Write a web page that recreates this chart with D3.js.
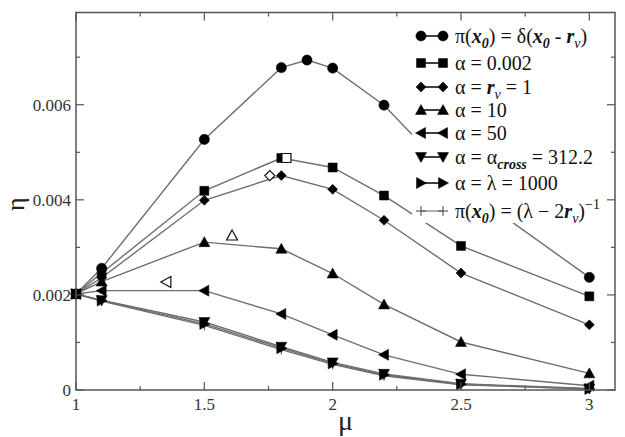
<!DOCTYPE html>
<html><head><meta charset="utf-8">
<style>
body{margin:0;background:#fff;}
#c text, #c tspan{font-family:"Liberation Serif","Times New Roman",Times,serif !important;}
</style>
<script src="https://cdn.jsdelivr.net/npm/d3@7"></script>
</head>
<body><svg id="c" width="625" height="437" font-family="Liberation Serif"></svg>
<script>
// ---- data ----
const muFull = [1, 1.1, 1.5, 1.8, 1.9, 2.0, 2.2, 2.5, 3];
const mu = [1, 1.1, 1.5, 1.8, 2.0, 2.2, 2.5, 3];
const etaDelta   = [0.00202, 0.00256, 0.00527, 0.00678, 0.00694, 0.00677, 0.00599, 0.00430, 0.00237];
const etaA0002   = [0.00202, 0.00246, 0.00419, 0.00488, 0.00468, 0.00409, 0.00303, 0.00197];
const etaArv     = [0.00202, 0.00236, 0.00399, 0.00451, 0.00422, 0.00357, 0.00246, 0.00137];
const etaA10     = [0.00202, 0.00228, 0.00311, 0.00297, 0.00245, 0.00180, 0.00101, 0.00035];
const etaA50     = [0.00202, 0.00209, 0.00209, 0.00160, 0.00116, 0.00074, 0.00033, 0.00009];
const etaAcross  = [0.00202, 0.00189, 0.00143, 0.00091, 0.00058, 0.00034, 0.00013, 0.00003];
const etaAlambda = [0.00202, 0.00188, 0.00139, 0.00088, 0.00056, 0.00032, 0.00012, 0.00002];
const etaUniform = [0.00202, 0.00187, 0.00136, 0.00085, 0.00054, 0.00030, 0.00011, 0.00002];
// open (hollow) markers
const openMu  = [1.82, 1.755, 1.608, 1.352];
const openEta = [0.00488, 0.00451, 0.00325, 0.00227];
const openSym = ["square", "diamond", "triangle", "left"];
const xTicks = [1, 1.5, 2, 2.5, 3];
const yTicks = [0, 0.002, 0.004, 0.006];
const yTickLabels = ["0", "0.002", "0.004", "0.006"];

// ---- layout ----
const FONT = "Liberation Serif";
const L = 76, R = 615, T = 12.5, B = 390;
const svg = d3.select("#c");
const x = d3.scaleLinear().domain([1, 3.1]).range([L, R]);
const y = d3.scaleLinear().domain([0, 0.00794]).range([B, T]);
const lineCol = "#6e6e6e";

const series = [
  {mu: muFull, eta: etaDelta, sym: "circle"},
  {mu: mu, eta: etaA0002, sym: "square"},
  {mu: mu, eta: etaArv, sym: "diamond"},
  {mu: mu, eta: etaA10, sym: "triangle"},
  {mu: mu, eta: etaA50, sym: "left"},
  {mu: mu, eta: etaAcross, sym: "down"},
  {mu: mu, eta: etaAlambda, sym: "right"},
  {mu: mu, eta: etaUniform, sym: "plus"}
];

function markerPath(sym){
  switch(sym){
    case "circle": return d3.symbol(d3.symbolCircle, 82)();
    case "square": return "M-4.5,-4.5H4.5V4.5H-4.5Z";
    case "diamond": return "M0,-5L5,0L0,5L-5,0Z";
    case "triangle": return "M0,-5.5L5.5,4.5L-5.5,4.5Z";
    case "down": return "M0,5.5L5.5,-4.5L-5.5,-4.5Z";
    case "left": return "M-5.5,0L4.5,-5.5L4.5,5.5Z";
    case "right": return "M5.5,0L-4.5,-5.5L-4.5,5.5Z";
    case "plus": return "M-5,0H5M0,-5V5";
  }
}
function drawMarker(g, sym, cx, cy, hollow){
  const p = g.append("path").attr("d", markerPath(sym))
    .attr("transform", `translate(${cx},${cy})`);
  if (sym === "plus") p.attr("fill","none").attr("stroke","#444").attr("stroke-width",1);
  else if (hollow) p.attr("fill","#fff").attr("stroke","#111").attr("stroke-width",1.2);
  else p.attr("fill","#000").attr("stroke","#000").attr("stroke-width",0.5);
}

const plot = svg.append("g");
const line = d3.line().x(d=>x(d[0])).y(d=>y(d[1]));
series.slice().reverse().forEach(s=>{
  const pts = s.mu.map((m,i)=>[m, s.eta[i]]);
  plot.append("path").attr("d", line(pts)).attr("fill","none")
    .attr("stroke", lineCol).attr("stroke-width",1.4);
});
series.slice().reverse().forEach(s=>{
  s.mu.forEach((m,i)=>drawMarker(plot, s.sym, x(m), y(s.eta[i]), false));
});
openMu.forEach((m,i)=>drawMarker(plot, openSym[i], x(m), y(openEta[i]), true));

// legend background
svg.append("rect").attr("x",412).attr("y",18).attr("width",200).attr("height",205).attr("fill","#fff");

// frame
svg.append("rect").attr("x",L).attr("y",T).attr("width",R-L).attr("height",B-T)
  .attr("fill","none").attr("stroke","#555").attr("stroke-width",1.5);

// ticks inward on all sides
const tk = svg.append("g").attr("stroke","#555").attr("stroke-width",1.2);
const xMinor = [1.25, 1.75, 2.25, 2.75];
xTicks.forEach(v=>{
  tk.append("line").attr("x1",x(v)).attr("x2",x(v)).attr("y1",B).attr("y2",B-8);
  tk.append("line").attr("x1",x(v)).attr("x2",x(v)).attr("y1",T).attr("y2",T+8);
});
xMinor.forEach(v=>{
  tk.append("line").attr("x1",x(v)).attr("x2",x(v)).attr("y1",B).attr("y2",B-4);
  tk.append("line").attr("x1",x(v)).attr("x2",x(v)).attr("y1",T).attr("y2",T+4);
});
const yMinor = [0.001, 0.003, 0.005, 0.007];
yTicks.forEach(v=>{
  tk.append("line").attr("x1",L).attr("x2",L+8).attr("y1",y(v)).attr("y2",y(v));
  tk.append("line").attr("x1",R).attr("x2",R-8).attr("y1",y(v)).attr("y2",y(v));
});
yMinor.forEach(v=>{
  tk.append("line").attr("x1",L).attr("x2",L+4).attr("y1",y(v)).attr("y2",y(v));
  tk.append("line").attr("x1",R).attr("x2",R-4).attr("y1",y(v)).attr("y2",y(v));
});

function txt(g){ return g.append("text").attr("font-family", FONT); }

// tick labels
xTicks.forEach(v=>{
  txt(svg).attr("x",x(v)).attr("y",410).attr("text-anchor","middle")
    .attr("font-size",17).attr("fill","#333").text(d3.format("")(v));
});
yTicks.forEach((v,i)=>{
  txt(svg).attr("x",71).attr("y",y(v)+6).attr("text-anchor","end")
    .attr("font-size",17).attr("fill","#333").text(yTickLabels[i]);
});
// axis titles
txt(svg).attr("x",(L+R)/2).attr("y",430).attr("text-anchor","middle")
  .attr("font-size",28).attr("fill","#222").text("μ");
txt(svg).attr("transform",`translate(24,${(T+B)/2+3}) rotate(-90)`)
  .attr("text-anchor","middle").attr("font-size",26).attr("fill","#222").text("η");

// legend
const legY = [36, 63, 87, 110, 133, 157, 183, 211];
const legSym = ["circle","square","diamond","triangle","left","down","right","plus"];
const lg = svg.append("g");
legSym.forEach((s,i)=>{
  lg.append("line").attr("x1",421).attr("x2",443).attr("y1",legY[i]).attr("y2",legY[i])
    .attr("stroke", s==="plus" ? "#666" : "#000").attr("stroke-width", s==="plus"?1:1.5);
  drawMarker(lg, s, 421, legY[i], false);
  drawMarker(lg, s, 443, legY[i], false);
});
function legText(i, parts){
  const t = txt(lg).attr("x",455).attr("y",legY[i]+7).attr("font-size",20).attr("fill","#111");
  parts.forEach(p=>{
    const ts = t.append("tspan").attr("font-family", FONT).text(p.t);
    if (p.bi) ts.attr("font-weight","bold").attr("font-style","italic");
    if (p.i) ts.attr("font-style","italic");
    if (p.sub) ts.attr("font-size",14).attr("dy",5);
    if (p.sup) ts.attr("font-size",14).attr("dy",-9);
    if (p.back) ts.attr("dy",p.back);
  });
}
legText(0,[{t:"π("},{t:"x",bi:1},{t:"0",bi:1,sub:1},{t:") = δ(",back:-5},{t:"x",bi:1},{t:"0",bi:1,sub:1},{t:" - ",back:-5},{t:"r",bi:1},{t:"v",i:1,sub:1},{t:")",back:-5}]);
legText(1,[{t:"α = 0.002"}]);
legText(2,[{t:"α = "},{t:"r",bi:1},{t:"v",i:1,sub:1},{t:" = 1",back:-5}]);
legText(3,[{t:"α = 10"}]);
legText(4,[{t:"α = 50"}]);
legText(5,[{t:"α = α"},{t:"cross",bi:1,sub:1},{t:" = 312.2",back:-5}]);
legText(6,[{t:"α = λ = 1000"}]);
legText(7,[{t:"π("},{t:"x",bi:1},{t:"0",bi:1,sub:1},{t:") = (λ − 2",back:-5},{t:"r",bi:1},{t:"v",i:1,sub:1},{t:")",back:-5},{t:"−1",sup:1}]);
</script></body></html>
